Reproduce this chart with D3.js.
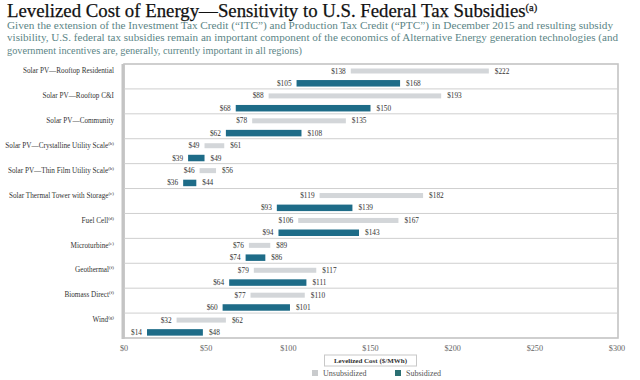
<!DOCTYPE html>
<html><head><meta charset="utf-8">
<script src="https://cdn.jsdelivr.net/npm/d3@7"></script>
<style>
html,body{margin:0;padding:0;background:#fff;}
svg{display:block;font-family:"Liberation Serif","DejaVu Serif",serif;}
</style></head>
<body><svg id="c" width="640" height="380"></svg>
<script>
const categories = ["Solar PV—Rooftop Residential", "Solar PV—Rooftop C&I", "Solar PV—Community", "Solar PV—Crystalline Utility Scale", "Solar PV—Thin Film Utility Scale", "Solar Thermal Tower with Storage", "Fuel Cell", "Microturbine", "Geothermal", "Biomass Direct", "Wind"];
const notes = ["", "", "", "(b)", "(b)", "(c)", "(d)", "(e)", "(f)", "(f)", "(g)"];
const unsubLow  = [138, 88, 78, 49, 46, 119, 106, 76, 79, 77, 32];
const unsubHigh = [222, 193, 135, 61, 56, 182, 167, 89, 117, 110, 62];
const subLow    = [105, 68, 62, 39, 36, 93, 94, 74, 64, 60, 14];
const subHigh   = [168, 150, 108, 49, 44, 139, 143, 86, 111, 101, 48];
const xTicks = [0, 50, 100, 150, 200, 250, 300];
const title = "Levelized Cost of Energy—Sensitivity to U.S. Federal Tax Subsidies";
const titleNote = "(a)";
const subtitle = [
  "Given the extension of the Investment Tax Credit (“ITC”) and Production Tax Credit (“PTC”) in December 2015 and resulting subsidy",
  "visibility, U.S. federal tax subsidies remain an important component of the economics of Alternative Energy generation technologies (and",
  "government incentives are, generally, currently important in all regions)"
];
const subtitleWidths = [606, 611, 295];
const axisTitle = "Levelized Cost ($/MWh)";
const legendLabels = ["Unsubsidized", "Subsidized"];

const GRAY = "#d3d6d9", TEAL = "#1e6c88";
const svg = d3.select("#c");
const L = 124, R = 617, T = 64, B = 338;
const x = d3.scaleLinear().domain([0, 300]).range([L, R]);
const y = d3.scaleBand().domain(categories).range([T, B]);

// title
const tt = svg.append("text").attr("x", 7).attr("y", 17).attr("font-size", 18.8).attr("fill", "#111")
  .attr("stroke", "#111").attr("stroke-width", 0.25).text(title);
tt.append("tspan").attr("font-size", 10.5).attr("dy", -6).text(titleNote);
subtitle.forEach((s, i) => {
  svg.append("text").attr("x", 7).attr("y", 29 + i * 12.3).attr("font-size", 10.2)
    .attr("textLength", subtitleWidths[i]).attr("lengthAdjust", "spacingAndGlyphs")
    .attr("fill", "#5b8586").text(s);
});

// frame
svg.append("rect").attr("x", L).attr("y", T).attr("width", R - L + 1).attr("height", B - T)
  .attr("fill", "#fff").attr("stroke", "#c4c4c4").attr("stroke-width", 1.6);
svg.append("line").attr("x1", L - 1).attr("x2", L - 1).attr("y1", T).attr("y2", B + 1)
  .attr("stroke", "#c4c4c4").attr("stroke-width", 3);

// separators
svg.append("g").selectAll("line").data(categories.slice(1)).join("line")
  .attr("x1", L).attr("x2", R + 1).attr("y1", d => y(d)).attr("y2", d => y(d))
  .attr("stroke", "#cfcfcf").attr("stroke-width", 1);

// category labels
const cl = svg.append("g").selectAll("text").data(categories).join("text")
  .attr("x", 114).attr("y", d => y(d) + 9.2).attr("text-anchor", "end")
  .attr("font-size", 7.2).attr("fill", "#333");
cl.each(function(d, i) {
  const t = d3.select(this);
  t.append("tspan").text(d);
  if (notes[i]) t.append("tspan").attr("font-size", 5).attr("dy", -3).text(notes[i]);
});

// bars
const rows = categories.map((c, i) => ({c, i}));
function barSet(lo, hi, dy, h, color) {
  const g = svg.append("g");
  g.selectAll("rect").data(rows).join("rect")
    .attr("x", d => x(lo[d.i])).attr("width", d => x(hi[d.i]) - x(lo[d.i]))
    .attr("y", d => y(d.c) + dy - h / 2).attr("height", h).attr("fill", color);
  g.selectAll("text.lo").data(rows).join("text").attr("class", "lo")
    .attr("x", d => x(lo[d.i]) - 5).attr("y", d => y(d.c) + dy + 2.5)
    .attr("text-anchor", "end").attr("font-size", 7.3).attr("fill", "#333")
    .text(d => "$" + lo[d.i]);
  g.selectAll("text.hi").data(rows).join("text").attr("class", "hi")
    .attr("x", d => x(hi[d.i]) + 6).attr("y", d => y(d.c) + dy + 2.5)
    .attr("font-size", 7.3).attr("fill", "#333")
    .text(d => "$" + hi[d.i]);
}
barSet(unsubLow, unsubHigh, 7, 5, GRAY);
barSet(subLow, subHigh, 19.3, 6.5, TEAL);

// x axis labels
svg.append("g").selectAll("text").data(xTicks).join("text")
  .attr("x", d => x(d)).attr("y", 351).attr("text-anchor", "middle")
  .attr("font-size", 8.2).attr("fill", "#666").text(d => "$" + d);

// axis title box
const ax = x(150);
svg.append("rect").attr("x", ax - 46).attr("y", 355).attr("width", 92).attr("height", 11)
  .attr("fill", "#fff").attr("stroke", "#c8c8c8").attr("stroke-width", 1);
svg.append("text").attr("x", ax).attr("y", 363).attr("text-anchor", "middle")
  .attr("font-size", 7).attr("font-weight", "bold").attr("fill", "#333").text(axisTitle);

// legend
const lg = svg.append("g").selectAll("g").data(legendLabels).join("g")
  .attr("transform", (d, i) => `translate(${312 + i * 83},370)`);
lg.append("rect").attr("width", 6).attr("height", 6).attr("fill", (d, i) => i ? "#2a6f72" : "#c9cbcd");
lg.append("text").attr("x", 11).attr("y", 6).attr("font-size", 8).attr("fill", "#555").text(d => d);
</script></body></html>
